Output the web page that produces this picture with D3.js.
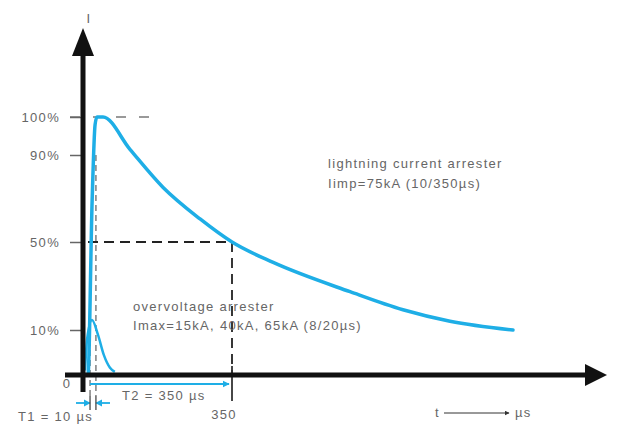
<!DOCTYPE html>
<html><head><meta charset="utf-8">
<script src="https://cdn.jsdelivr.net/npm/d3@7/dist/d3.min.js"></script>
<style>body{margin:0;background:#fff}svg{display:block}text{font-family:"Liberation Sans",Arial,sans-serif;letter-spacing:1.3px}</style>
</head><body><svg id="c" width="622" height="425"></svg>
<script>
// time in µs, current in % of peak
const lightningTime = [0, 7, 17, 24, 28.6, 42.9, 107, 186, 274, 350, 448, 631, 757, 869, 1019];
const lightningPct  = [0, 0, 69, 98, 100, 100, 91.5, 75.1, 60.6, 50, 40.7, 27.4, 19.2, 14.0, 10];
const surgeTime = [0, 5, 16.7, 31, 45, 59.5, 71];
const surgePct  = [1, 8, 14.5, 8.9, 4.4, 1.6, 0.7];
const yTicks = [10, 50, 90, 100];
const yTickLabels = ["10%", "50%", "90%", "100%"];
const xTicks = [350];
const xTickLabels = ["350"];
const t1Marks = [12, 26];   // 10 % and 90 % crossing (µs)
const labels = {
  lightning1: "lightning current arrester",
  lightning2: "Iimp=75kA (10/350µs)",
  surge1: "overvoltage arrester",
  surge2: "Imax=15kA, 40kA, 65kA (8/20µs)",
  t1: "T1 = 10 µs",
  t2: "T2 = 350 µs",
  yName: "I",
  zero: "0"
};

const svg = d3.select("#c");
const x = d3.scaleLinear().domain([0, 350]).range([85, 232]);
const y = d3.scaleLinear().domain([0, 10, 50, 90, 100]).range([375, 330, 242, 155, 117]);
const blue = "#1eaee6";
const txt = "#666";
const fs = 13;

const defs = svg.append("defs");
defs.append("marker").attr("id","ab").attr("viewBox","0 0 10 10").attr("refX",9).attr("refY",5)
  .attr("markerWidth",4).attr("markerHeight",4).attr("orient","auto")
  .append("path").attr("d","M0,0L10,5L0,10z").attr("fill",blue);
defs.append("marker").attr("id","ak").attr("viewBox","0 0 10 10").attr("refX",9).attr("refY",5)
  .attr("markerWidth",5).attr("markerHeight",5).attr("orient","auto")
  .append("path").attr("d","M0,0L10,5L0,10z").attr("fill","#333");

// dashed reference lines
svg.append("line").attr("x1",70).attr("x2",160).attr("y1",y(100)).attr("y2",y(100))
  .attr("stroke","#999").attr("stroke-width",2).attr("stroke-dasharray","10,13");
svg.append("line").attr("x1",x(0)+3).attr("x2",x(350)).attr("y1",y(50)).attr("y2",y(50))
  .attr("stroke","#222").attr("stroke-width",1.8).attr("stroke-dasharray","10,6");
svg.append("line").attr("x1",x(350)).attr("x2",x(350)).attr("y1",y(50)).attr("y2",y(0))
  .attr("stroke","#222").attr("stroke-width",1.8).attr("stroke-dasharray","10,6");
svg.append("line").attr("x1",x(350)).attr("x2",x(350)).attr("y1",366).attr("y2",401)
  .attr("stroke","#333").attr("stroke-width",1.8);
svg.append("line").attr("x1",x(t1Marks[1])).attr("x2",x(t1Marks[1])).attr("y1",y(90)).attr("y2",396)
  .attr("stroke","#777").attr("stroke-width",1.4).attr("stroke-dasharray","6,4");
svg.append("line").attr("x1",x(t1Marks[0])).attr("x2",x(t1Marks[0])).attr("y1",y(10)).attr("y2",396)
  .attr("stroke","#777").attr("stroke-width",1.4).attr("stroke-dasharray","6,4");

// y ticks
const yAxis = d3.axisLeft(y).tickValues(yTicks).tickFormat((d,i)=>yTickLabels[i]).tickSize(13).tickPadding(10);
const ga = svg.append("g").attr("transform","translate(83,0)").call(yAxis);
ga.select(".domain").remove();
ga.selectAll("line").attr("stroke","#666").attr("stroke-width",1.5);
ga.selectAll("text").attr("font-size",fs).attr("fill",txt).style("font-family","Liberation Sans, Arial");

// x tick label
svg.selectAll(".xt").data(xTicks).join("text").attr("class","xt")
  .attr("x",d=>x(d)-8).attr("y",419).attr("text-anchor","middle").attr("font-size",fs).attr("fill",txt)
  .text((d,i)=>xTickLabels[i]);
svg.append("text").attr("x",67).attr("y",388).attr("text-anchor","middle").attr("font-size",fs).attr("fill",txt).text(labels.zero);

// curves
svg.append("path").datum(surgeTime.map((t,i)=>[t,surgePct[i]]))
  .attr("d",d3.line().x(d=>x(d[0])).y(d=>y(d[1])).curve(d3.curveMonotoneX))
  .attr("fill","none").attr("stroke",blue).attr("stroke-width",2.5);
svg.append("path").datum(lightningTime.map((t,i)=>[t,lightningPct[i]]))
  .attr("d",d3.line().x(d=>x(d[0])).y(d=>y(d[1])).curve(d3.curveMonotoneX))
  .attr("fill","none").attr("stroke",blue).attr("stroke-width",3.5).attr("stroke-linejoin","round").attr("stroke-linecap","round");

// axes (black arrows)
svg.append("line").attr("x1",83).attr("x2",83).attr("y1",50).attr("y2",392).attr("stroke","#111").attr("stroke-width",5);
svg.append("path").attr("d","M83,28L72,56L94,56Z").attr("fill","#111");
svg.append("line").attr("x1",65).attr("x2",590).attr("y1",375).attr("y2",375).attr("stroke","#111").attr("stroke-width",5);
svg.append("path").attr("d","M607,375L585,364L585,386Z").attr("fill","#111");
svg.append("text").attr("x",89).attr("y",23).attr("text-anchor","middle").attr("font-size",fs).attr("fill",txt).text(labels.yName);

// T2 arrow
svg.append("line").attr("x1",x(t1Marks[0])).attr("x2",x(350)-3).attr("y1",384).attr("y2",384)
  .attr("stroke",blue).attr("stroke-width",1.8).attr("marker-end","url(#ab)");
svg.append("text").attr("x",122).attr("y",400).attr("font-size",fs).attr("fill",txt).text(labels.t2);
// T1 arrows
svg.append("line").attr("x1",76).attr("x2",x(t1Marks[0])).attr("y1",403).attr("y2",403)
  .attr("stroke",blue).attr("stroke-width",1.8).attr("marker-end","url(#ab)");
svg.append("line").attr("x1",110).attr("x2",x(t1Marks[1])).attr("y1",403).attr("y2",403)
  .attr("stroke",blue).attr("stroke-width",1.8).attr("marker-end","url(#ab)");
svg.selectAll(".t1t").data(t1Marks).join("line").attr("class","t1t")
  .attr("x1",d=>x(d)).attr("x2",d=>x(d)).attr("y1",396).attr("y2",410).attr("stroke","#555").attr("stroke-width",1.4);
svg.append("text").attr("x",18).attr("y",421).attr("font-size",fs).attr("fill",txt).text(labels.t1);

// t -> µs
svg.append("text").attr("x",435).attr("y",417).attr("font-size",fs).attr("fill",txt).text("t");
svg.append("line").attr("x1",444).attr("x2",509).attr("y1",413).attr("y2",413).attr("stroke","#333").attr("stroke-width",1).attr("marker-end","url(#ak)");
svg.append("text").attr("x",515).attr("y",417).attr("font-size",fs).attr("fill",txt).text("µs");

// annotations
svg.append("text").attr("x",328).attr("y",168).attr("font-size",fs).attr("fill",txt).text(labels.lightning1);
svg.append("text").attr("x",328).attr("y",188).attr("font-size",fs).attr("fill",txt).text(labels.lightning2);
svg.append("text").attr("x",133).attr("y",311).attr("font-size",fs).attr("fill",txt).text(labels.surge1);
svg.append("text").attr("x",133).attr("y",330).attr("font-size",fs).attr("fill",txt).text(labels.surge2);
</script></body></html>
